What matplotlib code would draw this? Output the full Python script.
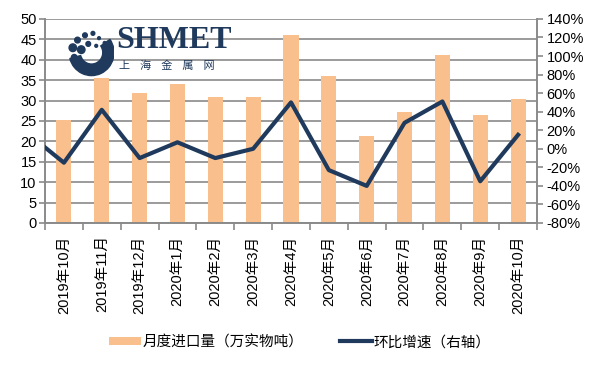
import numpy as np
import matplotlib
matplotlib.use("Agg")
import matplotlib.pyplot as plt
from matplotlib.patches import Wedge, Circle, Patch
from matplotlib.lines import Line2D

plt.rcParams['font.family'] = ['Liberation Sans', 'Noto Sans CJK SC', 'DejaVu Sans']

months = ['2019年10月', '2019年11月', '2019年12月', '2020年1月', '2020年2月', '2020年3月',
          '2020年4月', '2020年5月', '2020年6月', '2020年7月', '2020年8月', '2020年9月', '2020年10月']
imports = [25.2, 35.5, 31.9, 34.1, 30.8, 30.8, 46.1, 35.9, 21.3, 27.2, 41.1, 26.5, 30.3]
# month-on-month change (%), first value is the hidden 2019-09 point (clipped at the axis)
prev_change = 18
mom_change = [-15, 42, -10, 7, -10, 0, 50, -23, -40, 28, 51, -35, 15]

bar_color = '#F9BF8C'
line_color = '#1F3A5C'
grid_color = '#8A8A8A'

fig = plt.figure(figsize=(6, 3.69), dpi=100)
ax = fig.add_axes([0.075, 0.3957, 0.82, 0.553])
ax2 = ax.twinx()

x = np.arange(len(months))
ax.bar(x, imports, width=0.4, color=bar_color, zorder=2)
ax.set_ylim(0, 50)
ax.set_yticks(np.arange(0, 51, 5))
ax.set_xlim(-0.5, len(months) - 0.5)
ax.yaxis.grid(True, color=grid_color, linewidth=1.2, zorder=0)
ax.set_axisbelow(True)

ax.set_xticks(x)
ax.set_xticklabels(months, rotation=90, fontsize=10.5)
ax.set_xticks(np.arange(-0.5, len(months)), minor=True)
ax.tick_params(axis='x', which='major', length=0, pad=9)
ax.tick_params(axis='x', which='minor', length=5, color=grid_color, width=1.2)
ax.tick_params(axis='y', length=4, color=grid_color, width=1.2, labelsize=10.5, pad=2)

lx = np.concatenate([[-1], x])
ly = np.concatenate([[prev_change], mom_change])
ax2.plot(lx, ly, color=line_color, linewidth=3, zorder=3)
ax2.set_ylim(-80, 140)
ax2.set_yticks(np.arange(-80, 141, 20))
ax2.set_yticklabels([f'{v}%' for v in range(-80, 141, 20)])
ax2.tick_params(axis='y', length=4, color=grid_color, width=1.2, labelsize=10.5, pad=3)
ax2.set_xlim(-0.5, len(months) - 0.5)

for a in (ax, ax2):
    a.spines['top'].set_visible(False)
    for s in ('left', 'right', 'bottom'):
        a.spines[s].set_color(grid_color)
        a.spines[s].set_linewidth(1.2)

# SHMET logo watermark
fig.text(0.193, 0.89, 'SHMET', fontsize=23, fontweight='bold', family='Liberation Serif',
         color=line_color, va='center', ha='left')
fig.text(0.198, 0.823, '上    海    金    属    网', fontsize=8, family=['Noto Sans CJK SC'],
         color=line_color, va='center', ha='left')
logo = fig.add_axes([0.112, 0.79, 0.078, 0.13])
logo.set_xlim(0, 1)
logo.set_ylim(0, 1)
logo.axis('off')
logo.add_patch(Wedge((0.52, 0.52), 0.48, 195, 35, width=0.24, color=line_color))
for cx, cy, r in [(0.12, 0.62, 0.08), (0.22, 0.78, 0.06), (0.38, 0.88, 0.05), (0.55, 0.92, 0.04),
                  (0.3, 0.58, 0.08), (0.45, 0.7, 0.05), (0.68, 0.82, 0.03), (0.8, 0.72, 0.03),
                  (0.15, 0.42, 0.06), (0.62, 0.66, 0.03)]:
    logo.add_patch(Circle((cx, cy), r, color=line_color))

handles = [Patch(facecolor=bar_color, edgecolor='none'),
           Line2D([0], [0], color=line_color, linewidth=3)]
fig.legend(handles, ['月度进口量（万实物吨）', '环比增速（右轴）'], loc='center',
           bbox_to_anchor=(0.5, 0.073), ncol=2, frameon=False, fontsize=10.5,
           handlelength=2.2, handleheight=0.5, handletextpad=0.1, columnspacing=2.5)

fig.savefig('out.png', dpi=100)
